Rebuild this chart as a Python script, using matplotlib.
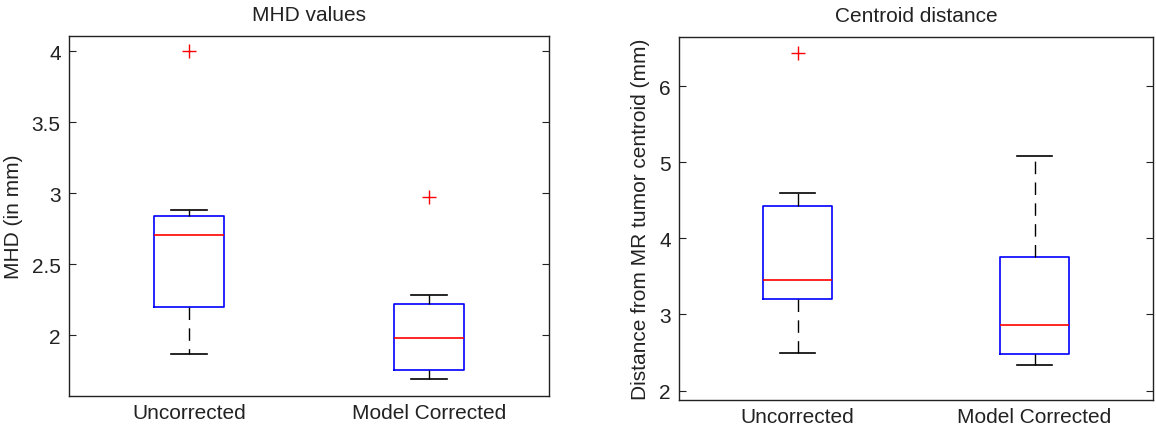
import matplotlib.pyplot as plt
from matplotlib.ticker import FuncFormatter

# groups on the x axis
groups = ['Uncorrected', 'Model Corrected']

# MHD values (mm)
mhd_whislo = [1.87, 1.69]
mhd_q1 = [2.20, 1.755]
mhd_med = [2.705, 1.98]
mhd_q3 = [2.84, 2.22]
mhd_whishi = [2.885, 2.285]
mhd_fliers = [[4.0], [2.975]]

# centroid distance (mm)
cd_whislo = [2.50, 2.33]
cd_q1 = [3.20, 2.48]
cd_med = [3.455, 2.86]
cd_q3 = [4.43, 3.75]
cd_whishi = [4.60, 5.08]
cd_fliers = [[6.44], []]


def make_stats(lo, q1, med, q3, hi, fl):
    out = []
    for i in range(len(groups)):
        out.append(dict(label=groups[i], whislo=lo[i], q1=q1[i], med=med[i],
                        q3=q3[i], whishi=hi[i], fliers=fl[i]))
    return out


plt.rcParams['font.family'] = ['Liberation Sans', 'DejaVu Sans']
plt.rcParams['font.size'] = 15

fig = plt.figure(figsize=(11.56, 4.27), dpi=100)
ax1 = fig.add_axes([0.0597, 0.0703, 0.4152, 0.8438])
ax2 = fig.add_axes([0.5874, 0.0616, 0.4100, 0.8500])


def draw(ax, stats, ylim, yticks, title, ylabel, lab_x):
    ax.bxp(stats, positions=[1, 2], widths=0.29, showfliers=True,
           boxprops=dict(color='#0000ff', linewidth=1.2),
           medianprops=dict(color='#ff0000', linewidth=1.2),
           whiskerprops=dict(color='black', linewidth=1.0, linestyle=(0, (9, 6))),
           capprops=dict(color='black', linewidth=1.2),
           flierprops=dict(marker='+', markeredgecolor='#ff0000', markersize=10,
                           markeredgewidth=1.0, linestyle='none'),
           capwidths=0.15)
    ax.set_xlim(0.5, 2.5)
    ax.set_ylim(*ylim)
    ax.set_yticks(yticks)
    ax.yaxis.set_major_formatter(FuncFormatter(lambda v, p: ('%g' % v)))
    ax.set_xticks([1, 2])
    ax.set_xticklabels(groups)
    ax.tick_params(axis='y', direction='in', length=5, right=True, pad=6,
                   colors='#222222', labelcolor='#222222')
    ax.tick_params(axis='x', length=0, pad=5, labelcolor='#222222')
    for s in ax.spines.values():
        s.set_color('#222222')
        s.set_linewidth(1.0)
    ax.set_title(title, fontsize=15, pad=11.5, color='#222222')
    ax.set_ylabel(ylabel, color='#222222')
    ax.yaxis.set_label_coords(lab_x, 0.5)


draw(ax1, make_stats(mhd_whislo, mhd_q1, mhd_med, mhd_q3, mhd_whishi, mhd_fliers),
     (1.573, 4.11), [2, 2.5, 3, 3.5, 4], 'MHD values', 'MHD (in mm)', -0.096)
draw(ax2, make_stats(cd_whislo, cd_q1, cd_med, cd_q3, cd_whishi, cd_fliers),
     (1.88, 6.65), [2, 3, 4, 5, 6], 'Centroid distance',
     'Distance from MR tumor centroid (mm)', -0.062)

fig.savefig('out.png', dpi=100)
